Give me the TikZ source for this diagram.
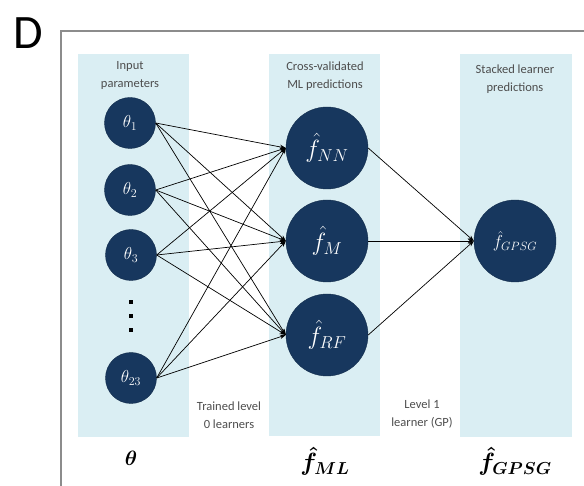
\documentclass[tikz,border=0pt]{standalone}
\usepackage{amsmath,amssymb,bm}
\usepackage[no-math]{fontspec}
\setmainfont{Carlito}
\usepackage{tikz}
\usetikzlibrary{positioning,arrows.meta}
\usepackage{xcolor}
\definecolor{panelblue}{HTML}{DAEEF3}
\definecolor{nodeblue}{HTML}{17375E}
\definecolor{labelgray}{HTML}{4D4D4D}
\definecolor{framegray}{HTML}{8C8C8C}

\begin{document}
\begin{tikzpicture}[x=1pt,y=-1pt,
panel/.style={fill=panelblue,draw=none},
unit/.style={circle,fill=nodeblue,draw=nodeblue!80!black,text=white,inner sep=0pt},
small/.style={unit,minimum size=51pt,font=\fontsize{17}{17}\selectfont},
big/.style={unit,minimum size=82pt,font=\fontsize{24}{24}\selectfont},
caption/.style={align=center,text=labelgray,font=\fontsize{12.5}{18}\selectfont},
symb/.style={font=\fontsize{21}{21}\selectfont},
arrow/.style={-{Stealth[length=6pt,width=4.5pt]},line width=0.7pt}]
\useasboundingbox (0,0) rectangle (584,486);
\clip (0,0) rectangle (584,486);
% frame and panel label
\draw[framegray,line width=2pt] (61,31) rectangle (600,500);
\node[font=\fontsize{48}{48}\selectfont] (lbl) at (28,33) {D};
% column backgrounds
\fill[panel] (78,54) rectangle (189,437);
\fill[panel] (269,54) rectangle (380,436);
\fill[panel] (460,54) rectangle (572,437);
% input parameters
\node[small] (t1) at (130,123) {$\theta_1$};
\node[small] (t2) at (130,190) {$\theta_2$};
\node[small] (t3) at (131,255) {$\theta_3$};
\node[small] (t23) at (131,378) {$\theta_{23}$};
\foreach \y in {302,316,330} \fill (129,\y-2) rectangle ++(4,4);
% level 0 predictions
\node[big] (nn) at (327,148) {$\hat{f}_{NN}$};
\node[big] (m) at (327,241) {$\hat{f}_{M}$};
\node[big] (rf) at (327,335) {$\hat{f}_{RF}$};
% stacked learner
\node[big,font=\fontsize{18}{18}\selectfont] (gpsg) at (515,241) {$\hat{f}_{GPSG}$};
% connectors
\foreach \i in {1,2,3,23}
  \foreach \j in {nn,m,rf}
    \draw[arrow] (t\i.east) -- (\j.west);
\foreach \j in {nn,m,rf}
  \draw[arrow] (\j.east) -- (gpsg.west);
% captions
\node[caption] (capin) at (130,76) {Input\\parameters};
\node[caption] (capml) at (325,76) {Cross-validated\\ML predictions};
\node[caption] (capst) at (515,79) {Stacked learner\\predictions};
\node[caption] (captr) at (229,415) {Trained level\\0 learners};
\node[caption] (caplv) at (422,414) {Level 1\\learner (GP)};
% column symbols
\node[symb] (stheta) at (131,458) {$\bm{\theta}$};
\node[symb,font=\fontsize{24}{24}\selectfont] (sml) at (325,461) {$\bm{\hat{f}}_{\bm{ML}}$};
\node[symb,font=\fontsize{24}{24}\selectfont] (sgpsg) at (515,461) {$\bm{\hat{f}}_{\bm{GPSG}}$};
\end{tikzpicture}
\end{document}
